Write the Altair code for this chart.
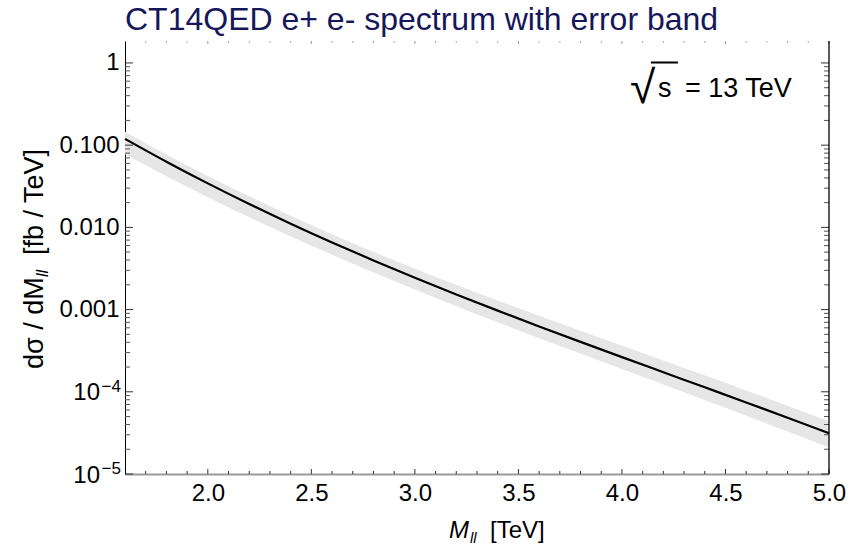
import math
import altair as alt
import pandas as pd

# ---- data ----
mass = [1.6, 1.8, 2.0, 2.2, 2.4, 2.6, 2.8, 3.0, 3.2, 3.4, 3.6, 3.8, 4.0, 4.2, 4.4, 4.6, 4.8, 5.0]
central = [0.1194, 0.06297, 0.03429, 0.01925, 0.01110, 0.006561, 0.003963, 0.002441, 0.001529,
           9.714e-4, 6.243e-4, 4.048e-4, 2.641e-4, 1.730e-4, 1.134e-4, 7.426e-5, 4.838e-5, 3.131e-5]
upper = [0.1457, 0.07714, 0.04218, 0.02387, 0.01388, 0.008267, 0.005033, 0.003149, 0.002003,
         1.292e-3, 8.428e-4, 5.546e-4, 3.645e-4, 2.405e-4, 1.588e-4, 1.040e-4, 6.773e-5, 4.383e-5]
lower = [0.07761, 0.04188, 0.02332, 0.01328, 0.00777, 0.004658, 0.002834, 0.001758, 0.001101,
         6.994e-4, 4.495e-4, 2.915e-4, 1.888e-4, 1.228e-4, 7.938e-5, 5.124e-5, 3.290e-5, 2.098e-5]

x_domain = [1.6, 5.0]
y_domain = [1e-5, 1.85]
x_major = [2.0, 2.5, 3.0, 3.5, 4.0, 4.5, 5.0]
x_minor = [1.7, 1.8, 1.9, 2.1, 2.2, 2.3, 2.4, 2.6, 2.7, 2.8, 2.9, 3.1, 3.2, 3.3, 3.4,
           3.6, 3.7, 3.8, 3.9, 4.1, 4.2, 4.3, 4.4, 4.6, 4.7, 4.8, 4.9]
y_major = [1e-5, 1e-4, 1e-3, 1e-2, 1e-1, 1.0]
y_major_labels = ["", "", "0.001", "0.010", "0.100", "1"]
y_pow_values = [1e-5, 1e-4]
y_pow_base = ["10", "10"]
y_pow_exp = ["−5", "−4"]
y_minor_mult = [2, 3, 4, 5, 6, 7, 8, 9]
y_minor = [m * d for d in y_major[:-1] for m in y_minor_mult]

title_text = "CT14QED e+ e- spectrum with error band"
ytitle_parts = ["dσ / dM", "ll", "[fb / TeV]"]
xtitle_parts = ["M", "ll", "[TeV]"]
energy_text = "= 13 TeV"

W, H = 704, 433
FONT = "Liberation Sans"

df = pd.DataFrame({"M": mass, "c": central, "hi": upper, "lo": lower})
xs = alt.Scale(domain=x_domain, nice=False, zero=False)
ys = alt.Scale(type="log", domain=y_domain, nice=False)

label_expr = ""
for v, lab in zip(y_major, y_major_labels):
    e = round(math.log10(v))
    label_expr += f"abs(log(datum.value)/LN10 - ({e})) < 0.01 ? '{lab}' : "
label_expr += "''"

x_axis = alt.Axis(
    values=x_major, format=".1f", labelFontSize=24, labelFont=FONT, labelColor="black",
    ticks=False, domainColor="#999999", domainWidth=2, labelPadding=7,
    labelFlush=False, labelOverlap=False, title=None, grid=False)
y_axis = alt.Axis(
    values=y_major, labelExpr=label_expr, labelFontSize=24, labelFont=FONT,
    labelColor="black", ticks=False, domainColor="black", domainWidth=1,
    labelPadding=6, labelOverlap=False, labelFlush=False, title=None, grid=False)

band = alt.Chart(df).mark_area(color="#e6e6e6", interpolate="monotone").encode(
    x=alt.X("M:Q", scale=xs, axis=x_axis),
    y=alt.Y("lo:Q", scale=ys, axis=y_axis),
    y2="hi:Q",
)

line = alt.Chart(df).mark_line(color="black", strokeWidth=2.2, interpolate="monotone").encode(
    x=alt.X("M:Q", scale=xs, axis=x_axis),
    y=alt.Y("c:Q", scale=ys, axis=y_axis),
)

xmaj = pd.DataFrame({"t": x_major})
xmin = pd.DataFrame({"t": x_minor})
ymaj = pd.DataFrame({"t": y_major})
ymin = pd.DataFrame({"t": y_minor})
ypow = pd.DataFrame({"t": y_pow_values, "base": y_pow_base, "exp": y_pow_exp})


def xticks(d, y0, y1, color):
    return alt.Chart(d).mark_rule(color=color, strokeWidth=1).encode(
        x=alt.X("t:Q", scale=xs, axis=x_axis), y=alt.value(y0), y2=alt.value(y1))


def yticks(d, x0, x1, color):
    return alt.Chart(d).mark_rule(color=color, strokeWidth=1).encode(
        y=alt.Y("t:Q", scale=ys, axis=y_axis), x=alt.value(x0), x2=alt.value(x1))


ticks = [
    xticks(xmaj, H, H - 5, "#333333"),
    xticks(xmin, H, H - 3, "#333333"),
    xticks(xmaj, 0, 3, "#999999"),
    xticks(xmin, 0, 2, "#aaaaaa"),
    yticks(ymaj, 0, 8, "#333333"),
    yticks(ymin, 0, 5, "#555555"),
    yticks(ymaj, W, W - 8, "#333333"),
    yticks(ymin, W, W - 5, "#555555"),
]

# power-of-ten labels with real superscripts
pow_base = alt.Chart(ypow).mark_text(fontSize=24, font=FONT, align="right",
                                     baseline="alphabetic", dy=8.5, color="black").encode(
    y=alt.Y("t:Q", scale=ys, axis=y_axis), x=alt.value(-25), text="base:N")
pow_exp = alt.Chart(ypow).mark_text(fontSize=17, font=FONT, align="right",
                                    baseline="alphabetic", dy=0, color="black").encode(
    y=alt.Y("t:Q", scale=ys, axis=y_axis), x=alt.value(-4), text="exp:N")

one = alt.Data(values=[{"a": 1}])
right_frame = alt.Chart(one).mark_rule(color="black", strokeWidth=1.3).encode(
    x=alt.value(W), y=alt.value(0), y2=alt.value(H))


def txt(text, x, y, size, angle=0, style="normal", color="black"):
    kw = dict(text=text, fontSize=size, font=FONT, fontStyle=style, align="left",
              baseline="alphabetic", color=color)
    if angle:
        kw["angle"] = angle
    return alt.Chart(one).mark_text(**kw).encode(x=alt.value(x), y=alt.value(y))


title = txt(title_text, 0, -11, 32, color="#16165a")

# y title, rotated, read bottom to top
ytitle = [
    txt(ytitle_parts[0], -82, 328, 27, angle=270),
    txt(ytitle_parts[1], -77, 236, 16, angle=270, style="italic"),
    txt(ytitle_parts[2], -82, 214, 27, angle=270),
]

xtitle = [
    txt(xtitle_parts[0], 324, 497, 24, style="italic"),
    txt(xtitle_parts[1], 345, 502, 15, style="italic"),
    txt(xtitle_parts[2], 365, 497, 24),
]

rad = txt("√", 505, 62, 46)
rad_bar = alt.Chart(one).mark_rule(color="black", strokeWidth=2).encode(
    x=alt.value(526), x2=alt.value(553), y=alt.value(21.5))
s_txt = txt("s", 533, 56, 27)
e_txt = txt(energy_text, 560, 56, 27)

chart = alt.layer(
    band, line, *ticks, pow_base, pow_exp, right_frame, title, *ytitle, *xtitle,
    rad, rad_bar, s_txt, e_txt
).properties(
    width=W, height=H,
    padding={"left": 125, "top": 41, "right": 32, "bottom": 76},
    autosize=alt.AutoSizeParams(type="none"),
).configure_view(stroke=None)

chart.save("out.html", embed_options={"renderer": "svg", "actions": False})
